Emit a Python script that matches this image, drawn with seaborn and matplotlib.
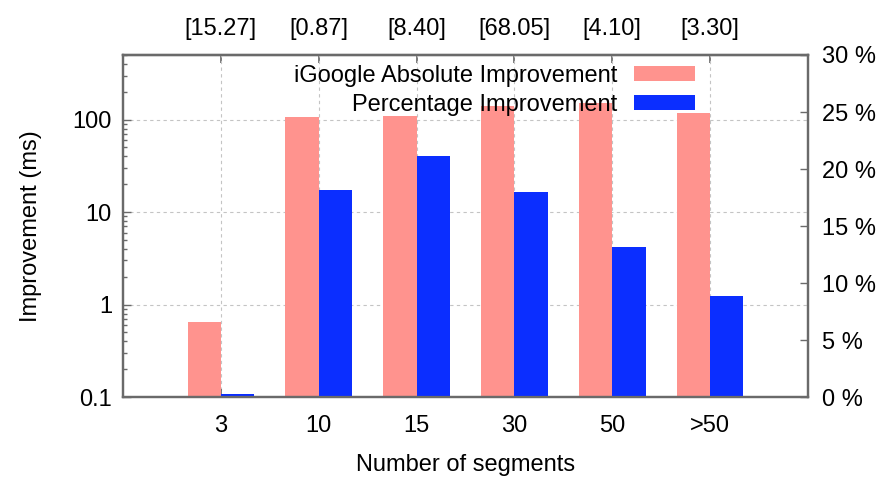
import matplotlib
matplotlib.use("Agg")
import matplotlib.pyplot as plt
import seaborn as sns
import pandas as pd
from matplotlib.patches import Patch

# ---- data ----
segments = ["3", "10", "15", "30", "50", ">50"]
top_labels = ["[15.27]", "[0.87]", "[8.40]", "[68.05]", "[4.10]", "[3.30]"]
abs_improvement = [0.65, 108, 110, 140, 150, 117]
pct_improvement = [0.3, 18.2, 21.1, 18.0, 13.2, 8.9]
left_ticks = [0.1, 1, 10, 100]
left_tick_labels = ["0.1", "1", "10", "100"]
right_ticks = [0, 5, 10, 15, 20, 25, 30]
right_tick_labels = ["0 %", "5 %", "10 %", "15 %", "20 %", "25 %", "30 %"]

abs_label = "iGoogle Absolute Improvement"
pct_label = "Percentage Improvement"
pink = "#ff938e"
blue = "#0b2eff"

sns.set_theme(style="white")
plt.rcParams['font.family'] = ['Liberation Sans', 'DejaVu Sans']
plt.rcParams['text.color'] = 'black'
plt.rcParams['axes.labelcolor'] = 'black'
plt.rcParams['xtick.labelcolor'] = 'black'
plt.rcParams['ytick.labelcolor'] = 'black'
FS = 17
edge = "#6a6a6a"

fig = plt.figure(figsize=(8.8, 4.82), dpi=100)
ax1 = fig.add_axes([0.1398, 0.1763, 0.7784, 0.7096])
ax1.set_yscale('log')

df_abs = pd.DataFrame({"segment": segments, "value": abs_improvement, "series": abs_label})
df_pct = pd.DataFrame({"segment": segments, "value": pct_improvement, "series": pct_label})
hue_order = [abs_label, pct_label]
palette = {abs_label: pink, pct_label: blue}

sns.barplot(data=df_abs, x="segment", y="value", hue="series", hue_order=hue_order,
            palette=palette, width=0.68, dodge=True, legend=False, saturation=1,
            errorbar=None, ax=ax1, linewidth=0)
ax2 = ax1.twinx()
sns.barplot(data=df_pct, x="segment", y="value", hue="series", hue_order=hue_order,
            palette=palette, width=0.68, dodge=True, legend=False, saturation=1,
            errorbar=None, ax=ax2, linewidth=0)

ax1.set_ylim(0.1, 500)
ax2.set_ylim(0, 30)
ax1.set_xlim(-1, 6)

ax1.set_yticks(left_ticks, labels=left_tick_labels)
ax2.set_yticks(right_ticks, labels=right_tick_labels)
ax1.tick_params(axis='y', which='major', direction='in', length=6, pad=8,
                labelsize=FS, color=edge, width=1, labelcolor='black')
ax1.tick_params(axis='y', which='minor', direction='in', length=3, color=edge, left=True)
ax2.tick_params(axis='y', which='major', direction='in', length=6, pad=10,
                labelsize=FS, color=edge, width=1, labelcolor='black')
ax1.tick_params(axis='x', direction='in', length=6, pad=13, labelsize=FS,
                color=edge, bottom=True, labelcolor='black')

xt = ax1.get_xticks()
sec = ax1.secondary_xaxis('top')
sec.set_xticks(xt, labels=top_labels)
sec.tick_params(direction='in', length=6, pad=11, labelsize=FS, color=edge,
                labelcolor='black')
for s in sec.spines.values():
    s.set_color(edge)
    s.set_linewidth(1.6)

ax1.set_axisbelow(True)
ax1.grid(True, which='major', axis='both', linestyle=(0, (3, 3)),
         color='#c4c4c4', linewidth=0.8)
ax1.grid(False, which='minor')

ax1.set_ylabel("Improvement (ms)", fontsize=FS, labelpad=22, color='black')
ax1.set_xlabel("Number of segments", fontsize=FS, labelpad=12, color='black')
ax2.set_ylabel("")

for ax in (ax1, ax2):
    for s in ax.spines.values():
        s.set_visible(True)
        s.set_color(edge)
        s.set_linewidth(1.6)

handles = [Patch(facecolor=pink, edgecolor='none'), Patch(facecolor=blue, edgecolor='none')]
leg = ax2.legend(handles=handles, labels=[abs_label, pct_label], loc='upper right',
                 bbox_to_anchor=(0.835, 0.971), borderaxespad=0, borderpad=0,
                 frameon=False, markerfirst=False, fontsize=FS, handlelength=2.6,
                 handleheight=0.62, handletextpad=0.7, labelspacing=0.3)
for t in leg.get_texts():
    t.set_color('black')

fig.savefig("out.png", dpi=100)
